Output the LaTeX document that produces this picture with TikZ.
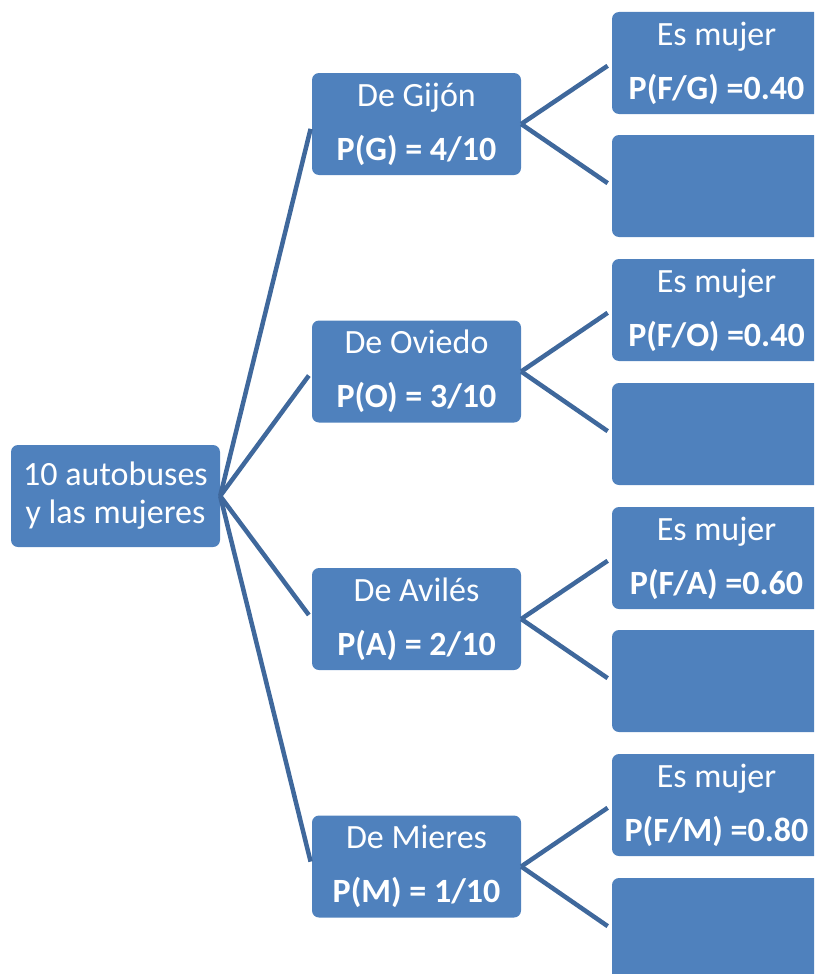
\documentclass[tikz,border=0pt]{standalone}
\usepackage{fontspec}
\setmainfont{Carlito}
\usepackage{tikz}

\definecolor{boxblue}{HTML}{4F81BD}
\definecolor{lineblue}{HTML}{3F689C}

\begin{document}
\begin{tikzpicture}[x=1pt,y=-1pt,
    every node/.style={font=\fontsize{34}{38}\selectfont},
    caja/.style={fill=boxblue,text=white,rounded corners=7pt,minimum width=209pt,minimum height=102pt,align=center,inner sep=0pt},
    rama/.style={draw=lineblue,line width=4.5pt,shorten >=5pt}]
  \useasboundingbox (0,0) rectangle (814,974);
  \clip (0,0) rectangle (814,974);
  % raiz
  \node[caja] (raiz) at (115.5,496) {10 autobuses\\y las mujeres};
  % segundo nivel
  \node[caja] (gijon) at (416.5,124) {De Gijón\\[16pt]\textbf{P(G) = 4/10}};
  \node[caja] (oviedo) at (416.5,371.5) {De Oviedo\\[16pt]\textbf{P(O) = 3/10}};
  \node[caja] (aviles) at (416.5,619) {De Avilés\\[16pt]\textbf{P(A) = 2/10}};
  \node[caja] (mieres) at (416.5,866.5) {De Mieres\\[16pt]\textbf{P(M) = 1/10}};
  % tercer nivel
  \node[caja] (gm) at (716.5,63) {Es mujer\\[16pt]\textbf{P(F/G) =0.40}};
  \node[caja] (gh) at (716.5,186) {};
  \node[caja] (om) at (716.5,310) {Es mujer\\[16pt]\textbf{P(F/O) =0.40}};
  \node[caja] (oh) at (716.5,434) {};
  \node[caja] (am) at (716.5,558) {Es mujer\\[16pt]\textbf{P(F/A) =0.60}};
  \node[caja] (ah) at (716.5,681) {};
  \node[caja] (mm) at (716.5,805) {Es mujer\\[16pt]\textbf{P(F/M) =0.80}};
  \node[caja] (mh) at (716.5,929) {};
  % ramas
  \draw[rama] (raiz.east) -- (gijon.west);
  \draw[rama] (raiz.east) -- (oviedo.west);
  \draw[rama] (raiz.east) -- (aviles.west);
  \draw[rama] (raiz.east) -- (mieres.west);
  \draw[rama] (gijon.east) -- (gm.west);
  \draw[rama] (gijon.east) -- (gh.west);
  \draw[rama] (oviedo.east) -- (om.west);
  \draw[rama] (oviedo.east) -- (oh.west);
  \draw[rama] (aviles.east) -- (am.west);
  \draw[rama] (aviles.east) -- (ah.west);
  \draw[rama] (mieres.east) -- (mm.west);
  \draw[rama] (mieres.east) -- (mh.west);
\end{tikzpicture}
\end{document}
